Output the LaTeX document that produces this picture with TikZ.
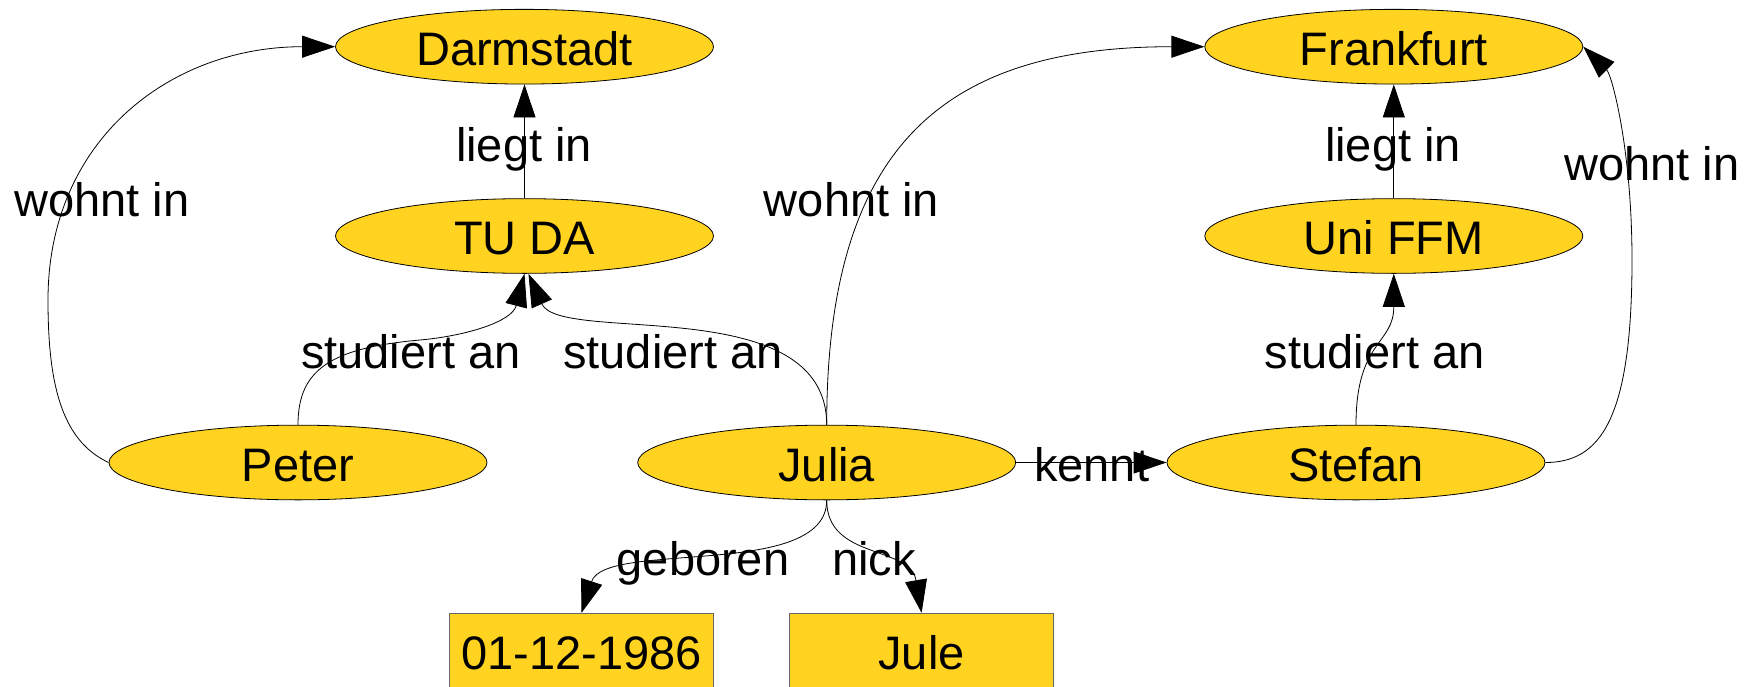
\documentclass[tikz,border=0pt]{standalone}
\usepackage{fontspec}
\setmainfont{Liberation Sans}
\usetikzlibrary{shapes.geometric,arrows.meta}
\definecolor{nodefill}{HTML}{FFD320}
\definecolor{boxline}{HTML}{666666}
\tikzset{
  concept/.style={ellipse, draw=black, line width=0.8pt, fill=nodefill,
    minimum width=378pt, minimum height=74.7pt, inner sep=0pt,
    text height=37pt, text depth=0pt,
    font=\fontsize{47}{56}\selectfont},
  literal/.style={rectangle, draw=boxline, line width=1pt, fill=nodefill,
    minimum width=264pt, minimum height=74.7pt, inner sep=0pt,
    text height=37pt, text depth=0pt,
    font=\fontsize{47}{56}\selectfont},
  rel/.style={draw=black, line width=0.8pt,
    -{Triangle[length=33pt,width=22pt]}},
  lbl/.style={anchor=base, inner sep=0pt, font=\fontsize{47}{56}\selectfont}
}
\begin{document}
\begin{tikzpicture}[x=1pt,y=-1pt]
\useasboundingbox (0,0) rectangle (1757,686);
\clip (0,0) rectangle (1757,686);

% resources
\node[concept] (darmstadt) at (524.5,46.7) {Darmstadt};
\node[concept] (tuda)      at (524.5,236)  {TU DA};
\node[concept] (frankfurt) at (1393.8,46.7) {Frankfurt};
\node[concept] (uniffm)    at (1393.8,236) {Uni FFM};
\node[concept] (peter)     at (298,462.5)  {Peter};
\node[concept] (julia)     at (826.7,462.5) {Julia};
\node[concept] (stefan)    at (1356,462.5) {Stefan};

% literals
\node[literal] (date) at (581.5,650.7) {01-12-1986};
\node[literal] (jule) at (921.6,650.7) {Jule};

% properties
\draw[rel] (peter.west) .. controls (60,440) and (48,380) .. (48,300)
  .. controls (48,140) and (170,46.7) .. (darmstadt.west);
\draw[rel] (tuda.north) -- (darmstadt.south);
\draw[rel] (peter.north) .. controls (298,370) and (330,348) .. (420,340)
  .. controls (465,336) and (512,322) .. (tuda.south);
\draw[rel] (julia.north) .. controls (826.7,290) and (560,345) .. (tuda.-84);
\draw[rel] (julia.north) .. controls (826.7,150) and (940,46.7) .. (frankfurt.west);
\draw[rel] (uniffm.north) -- (frankfurt.south);
\draw[rel] (stefan.north) .. controls (1356,340) and (1393.8,345) .. (uniffm.south);
\draw[rel] (stefan.east) .. controls (1600,462.5) and (1632,420) .. (1632,260)
  .. controls (1632,150) and (1612,75) .. (frankfurt.east);
\draw[rel] (julia.east) -- (stefan.west);
\draw[rel] (julia.south) .. controls (826.7,580) and (605,540) .. (date.north);
\draw[rel] (julia.south) .. controls (826.7,560) and (910,545) .. (jule.north);

% property labels
\node[lbl] (l1)  at (101.8,216.7) {wohnt in};
\node[lbl] (l2)  at (524,161.7)   {liegt in};
\node[lbl] (l3)  at (410.8,368.3) {studiert an};
\node[lbl] (l4)  at (673,368.3)   {studiert an};
\node[lbl] (l5)  at (851.5,216.7) {wohnt in};
\node[lbl] (l6)  at (1393,161.7)  {liegt in};
\node[lbl] (l7)  at (1652,180)    {wohnt in};
\node[lbl] (l8)  at (1374.7,368.3) {studiert an};
\node[lbl] (l9)  at (1091.7,481.7) {kennt};
\node[lbl] (l10) at (703,575)     {geboren};
\node[lbl] (l11) at (874,575)     {nick};
\end{tikzpicture}
\end{document}
